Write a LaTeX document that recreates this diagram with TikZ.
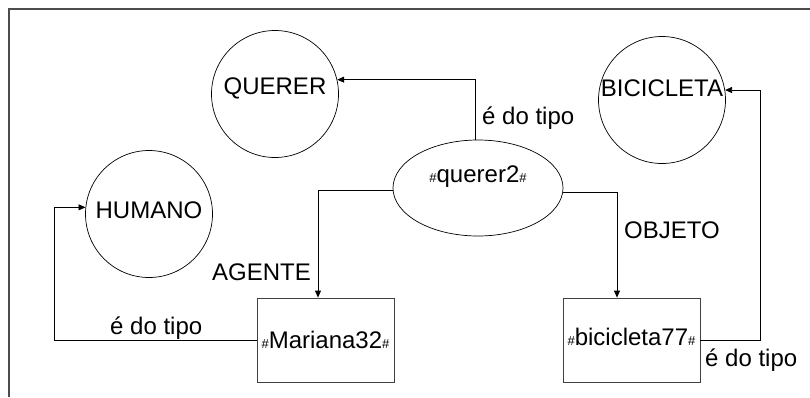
\documentclass[tikz,border=0pt]{standalone}
\usepackage{fontspec}
\setmainfont{Liberation Sans}
\usetikzlibrary{arrows.meta,shapes.geometric}
\newcommand\hs{{\fontsize{13}{13}\selectfont\#}}
\begin{document}
\begin{tikzpicture}[x=1pt,y=-1pt,
  every node/.style={font=\fontsize{24}{26}\selectfont},
  concept/.style={circle,draw,line width=0.7pt,minimum size=127pt,inner sep=0pt},
  inst/.style={ellipse,draw,line width=0.7pt,minimum width=170pt,minimum height=96pt,inner sep=0pt},
  entity/.style={rectangle,draw=black!75,line width=0.8pt,minimum width=137pt,minimum height=84pt,inner sep=0pt},
  conn/.style={line width=0.8pt,-{Triangle[length=7pt,width=6pt]}},
  lbl/.style={inner sep=0pt},
  frame/.style={line width=1.5pt,draw=black!70}
]
\useasboundingbox (0,0) rectangle (810,397);
\draw[frame] (810,9) -- (9,9) -- (9,397);

\node[concept,label={[yshift=5.5pt]center:QUERER}] (querer) at (275,94) {};
\node[concept,label={[yshift=12pt]center:BICICLETA}] (bicicleta) at (662,100) {};
\node[concept,label={[yshift=3.5pt]center:HUMANO}] (humano) at (149,214) {};
\node[inst,label={[yshift=11pt]center:\hs querer2\hs}] (q2) at (478,188) {};
\node[entity] (mariana) at (325.5,340) {\hs Mariana32\hs};
\node[entity,label={[yshift=3pt]center:\hs bicicleta77\hs}] (bic77) at (631.5,340) {};

\draw[conn] ([xshift=-3pt]q2.north) |- (querer.13);
\draw[conn] ([yshift=-2pt]q2.west) -| ([xshift=-7.5pt]mariana.north);
\draw[conn] ([yshift=-4pt]q2.east) -| ([xshift=-14.5pt]bic77.north);
\draw[conn] (mariana.west) -- ++(-202,0) |- (humano.174.6);
\draw[conn] (bic77.east) -- ++(60,0) |- (bicicleta.9.9);

\node[lbl,anchor=west] (t1) at (482,118) {é do tipo};
\node[lbl,anchor=east] (t2) at (311,272) {AGENTE};
\node[lbl,anchor=west] (t3) at (624,230) {OBJETO};
\node[lbl,anchor=west] (t4) at (110,328) {é do tipo};
\node[lbl,anchor=west] (t5) at (705,360) {é do tipo};
\end{tikzpicture}
\end{document}
